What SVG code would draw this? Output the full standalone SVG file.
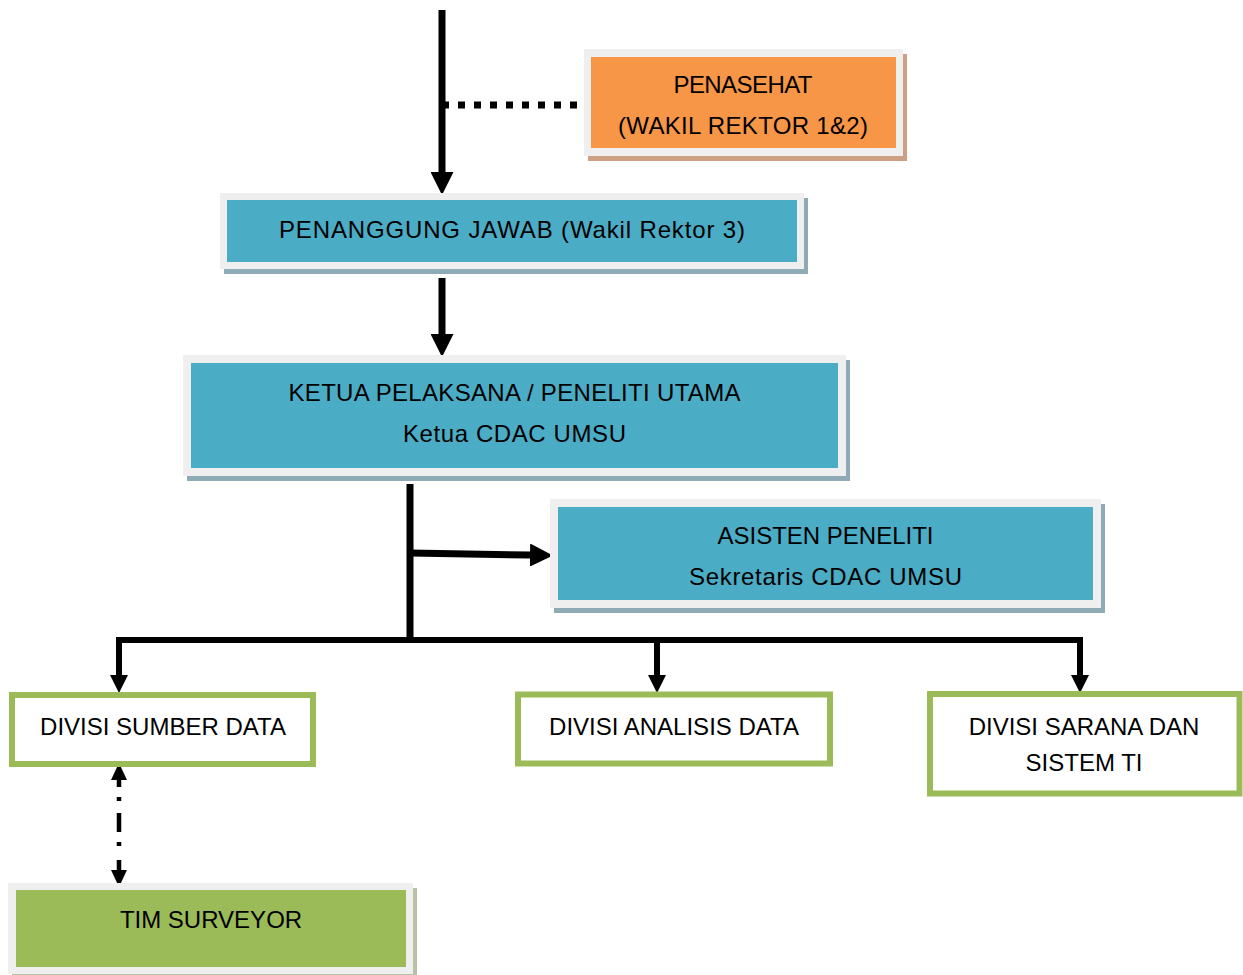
<svg xmlns="http://www.w3.org/2000/svg" width="1243" height="975" viewBox="0 0 1243 975">
<style>
text{font-family:"Liberation Sans",Arial,sans-serif;font-size:24px;fill:#000;text-anchor:middle}
.frame{fill:#efefef}
.shT{fill:#8eaab4}
.shO{fill:#cda083}
.shG{fill:#b9c2a6}
.teal{fill:#4bacc6}
.orange{fill:#f79646}
.greenF{fill:#9bbb59}
.div{fill:#fff;stroke:#9bbb59;stroke-width:6}
.ln{fill:none;stroke:#000;stroke-width:7}
.ln6{fill:none;stroke:#000;stroke-width:6}
</style>
<defs>
<marker id="ah" markerUnits="userSpaceOnUse" markerWidth="23" markerHeight="23" refX="0" refY="11.5" orient="auto"><path d="M0,0 L23,11.5 L0,23 z" fill="#000"/></marker>
<marker id="ahs" markerUnits="userSpaceOnUse" markerWidth="18" markerHeight="18" refX="0" refY="9" orient="auto"><path d="M0,0 L18,9 L0,18 z" fill="#000"/></marker>
<marker id="aht" markerUnits="userSpaceOnUse" markerWidth="17" markerHeight="16" refX="0" refY="8" orient="auto-start-reverse"><path d="M0,0 L17,8 L0,16 z" fill="#000"/></marker>
</defs>

<g id="connectors">
<path class="ln" d="M442,10 V172" marker-end="url(#ah)"/>
<path class="ln" d="M442,105 H586" stroke-dasharray="7 9"/>
<path class="ln" d="M442,278 V334" marker-end="url(#ah)"/>
<path class="ln" d="M410,484 V643"/>
<path class="ln" d="M410,553 L530,555" marker-end="url(#ah)"/>
<path class="ln6" d="M119,640 H1080"/>
<path class="ln6" d="M119,637 V675" marker-end="url(#ahs)"/>
<path class="ln6" d="M657,640 V675" marker-end="url(#ahs)"/>
<path class="ln6" d="M1080,637 V675" marker-end="url(#ahs)"/>
<path d="M119,780 V870" fill="none" stroke="#000" stroke-width="4.5" stroke-dasharray="7 10 4 12 19 10 4 14 10" marker-start="url(#aht)" marker-end="url(#aht)"/>
</g>

<g id="penasehat">
<rect class="shO" x="588" y="54" width="319" height="107"/>
<rect class="frame" x="584" y="49" width="319" height="107"/>
<rect class="orange" x="591" y="57" width="305" height="91"/>
<text x="743" y="93" textLength="139" lengthAdjust="spacing">PENASEHAT</text>
<text x="743" y="134" textLength="250" lengthAdjust="spacing">(WAKIL REKTOR 1&amp;2)</text>
</g>

<g id="penanggung-jawab">
<rect class="shT" x="224" y="198" width="584" height="76"/>
<rect class="frame" x="220" y="193" width="584" height="76"/>
<rect class="teal" x="227" y="200" width="570" height="62"/>
<text x="512" y="238" textLength="466" lengthAdjust="spacing">PENANGGUNG JAWAB (Wakil Rektor 3)</text>
</g>

<g id="ketua-pelaksana">
<rect class="shT" x="187" y="360" width="663" height="121"/>
<rect class="frame" x="183" y="355" width="663" height="121"/>
<rect class="teal" x="191" y="363" width="647" height="105"/>
<text x="514.5" y="401" textLength="452" lengthAdjust="spacing">KETUA PELAKSANA / PENELITI UTAMA</text>
<text x="514.5" y="442" textLength="223" lengthAdjust="spacing">Ketua CDAC UMSU</text>
</g>

<g id="asisten-peneliti">
<rect class="shT" x="554" y="504" width="551" height="109"/>
<rect class="frame" x="550" y="499" width="551" height="109"/>
<rect class="teal" x="558" y="507" width="535" height="93"/>
<text x="825.5" y="544">ASISTEN PENELITI</text>
<text x="825.5" y="585" textLength="273" lengthAdjust="spacing">Sekretaris CDAC UMSU</text>
</g>

<g id="divisi-sumber-data">
<rect class="div" x="12" y="695" width="301" height="69"/>
<text x="163" y="735">DIVISI SUMBER DATA</text>
</g>

<g id="divisi-analisis-data">
<rect class="div" x="518" y="694.5" width="312" height="69"/>
<text x="674" y="735">DIVISI ANALISIS DATA</text>
</g>

<g id="divisi-sarana">
<rect class="div" x="930" y="694" width="309.5" height="99.5"/>
<text x="1084" y="735">DIVISI SARANA DAN</text>
<text x="1084" y="771">SISTEM TI</text>
</g>

<g id="tim-surveyor">
<rect class="shG" x="12" y="888" width="405" height="91"/>
<rect class="frame" x="8" y="883" width="405" height="91"/>
<rect class="greenF" x="16" y="890" width="390" height="77"/>
<text x="211" y="928">TIM SURVEYOR</text>
</g>
</svg>
